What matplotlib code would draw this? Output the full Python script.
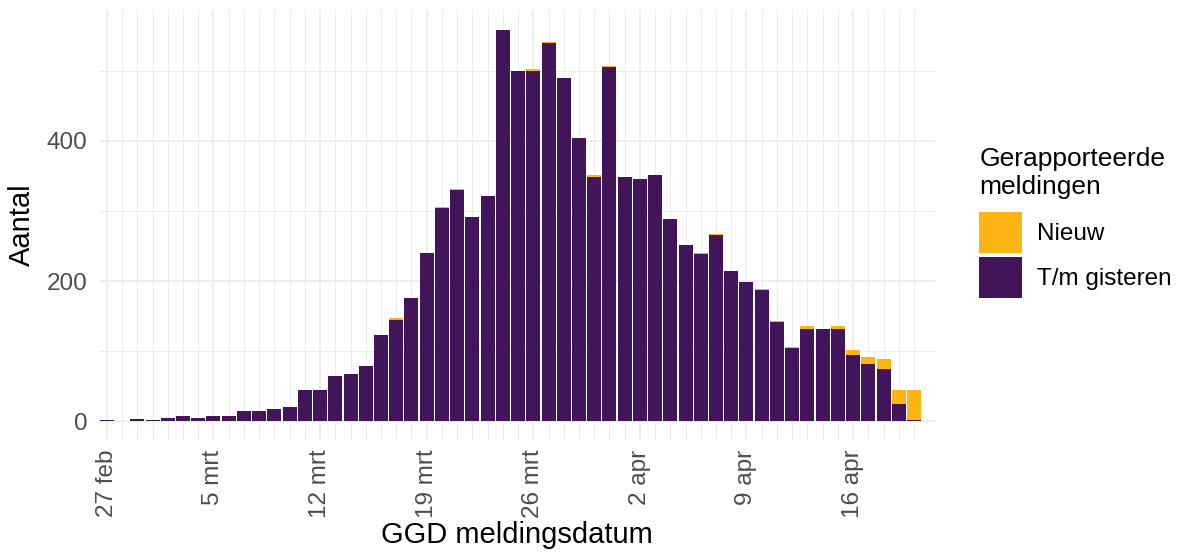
import numpy as np
import pandas as pd
import matplotlib
matplotlib.use("Agg")
import matplotlib.pyplot as plt
from matplotlib.patches import Patch

plt.rcParams['font.family'] = ['Liberation Sans', 'DejaVu Sans']

# dagen 27 feb t/m 20 apr 2020
dagen = pd.date_range("2020-02-27", "2020-04-20", freq="D")

# T/m gisteren (paars)
gisteren = [1, 0, 3, 1, 4, 7, 4, 7, 7, 14, 14, 17, 20, 44, 44, 64, 67, 78, 123, 144,
            176, 240, 305, 330, 292, 322, 559, 500, 500, 540, 490, 404, 348, 506, 348, 345,
            351, 288, 251, 239, 266, 214, 198, 187, 142, 105, 132, 131, 132, 94, 82, 74,
            25, 1]
# Nieuw (oranje)
nieuw = [0, 0, 0, 0, 0, 0, 0, 0, 0, 0, 0, 0, 0, 0, 0, 0, 0, 1, 0, 3,
         0, 0, 1, 1, 0, 0, 0, 0, 3, 1, 0, 0, 4, 1, 0, 1,
         0, 0, 0, 1, 1, 1, 0, 1, 1, 1, 4, 0, 4, 7, 10, 14,
         19, 43]

tick_labels = ["27 feb", "5 mrt", "12 mrt", "19 mrt", "26 mrt", "2 apr", "9 apr", "16 apr"]
tick_idx = [0, 7, 14, 21, 28, 35, 42, 49]

paars = "#42145a"
oranje = "#fdb515"
grid = "#ebebeb"

x = np.arange(len(dagen))
gisteren = np.array(gisteren)
nieuw = np.array(nieuw)

fig = plt.figure(figsize=(11.77, 5.56), dpi=100)
ax = fig.add_axes([0.085, 0.2086, 0.709, 0.7734])

ax.bar(x, gisteren, width=0.92, color=paars, zorder=3)
ax.bar(x, nieuw, width=0.92, bottom=gisteren, color=oranje, zorder=3)

ax.set_xlim(-0.45, 54.35)
ax.set_ylim(-27, 587)

ax.set_xticks(tick_idx)
ax.set_xticklabels(tick_labels, rotation=90, fontsize=17.5, color="#4d4d4d")
ax.set_xticks(x, minor=True)
ax.set_yticks([0, 200, 400])
ax.set_yticklabels(["0", "200", "400"], fontsize=17.5, color="#4d4d4d")
ax.set_yticks([100, 300, 500], minor=True)
ax.tick_params(which="both", length=0)
ax.tick_params(axis="x", pad=7)
ax.tick_params(axis="y", pad=9)

ax.grid(which="major", color=grid, lw=1.3, zorder=0)
ax.grid(which="minor", color=grid, lw=0.7, zorder=0)
for s in ax.spines.values():
    s.set_visible(False)

ax.set_xlabel("GGD meldingsdatum", fontsize=21, labelpad=2)
ax.set_ylabel("Aantal", fontsize=21, labelpad=8)

handles = [Patch(facecolor=oranje, label="Nieuw"),
           Patch(facecolor=paars, label="T/m gisteren")]
leg = fig.legend(handles=handles, title="Gerapporteerde\nmeldingen",
                 loc="upper left", bbox_to_anchor=(0.832, 0.735),
                 frameon=False, fontsize=17.5, title_fontsize=19,
                 handlelength=1.77, handleheight=2.24, labelspacing=0.16,
                 handletextpad=0.62, borderpad=0, borderaxespad=0)
leg._legend_box.align = "left"
leg._legend_box.sep = 9

fig.savefig("out.png", dpi=100)
